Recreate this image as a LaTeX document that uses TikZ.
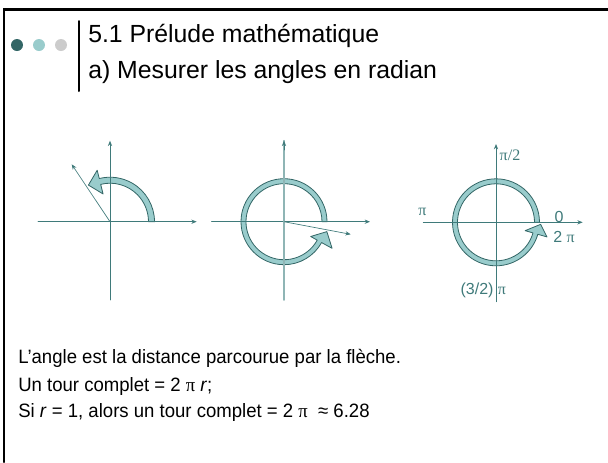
\documentclass[tikz,border=0pt]{standalone}
\usepackage{fontspec}
\setmainfont{Liberation Sans}
\newfontfamily\grec{Liberation Serif}
\usetikzlibrary{arrows.meta}
\definecolor{sarcelle}{HTML}{3F7A7A}
\definecolor{sarcelleclair}{HTML}{99CCCC}
\definecolor{sarcellefonce}{HTML}{336666}
\definecolor{grisclair}{HTML}{CCCCCC}
\definecolor{axeclair}{HTML}{8FB5B5}

\begin{document}
\begin{tikzpicture}[x=0.75pt,y=0.75pt,>={Stealth[length=4pt,width=3.2pt]},line cap=round,
  axe/.style={sarcelle,line width=0.7pt},
  bande/.style={fill=sarcelleclair,draw=sarcellefonce,line width=0.6pt,line join=round},
  etiq/.style={text=sarcelle,font=\fontsize{12}{14}\selectfont,inner sep=0pt},
  titre/.style={anchor=base west,inner sep=0pt,font=\fontsize{18.6}{20}\selectfont},
  texte/.style={anchor=base west,inner sep=0pt,xscale=0.96,font=\fontsize{14.5}{18}\selectfont}]
\useasboundingbox (0,0) rectangle (608,-462);
% cadre de la diapo
\draw[line width=1.6pt] (4,-462) -- (4,-9.5) -- (608,-9.5);
% puces du titre
\fill[sarcellefonce] (17,-45) circle (6);
\fill[sarcelleclair] (39,-45) circle (6);
\fill[grisclair] (61,-45) circle (6);
\draw[line width=1.5pt] (79,-21) -- (79,-91);
\node[titre] (titre1) at (88,-42) {5.1 Prélude mathématique};
\node[titre] (titre2) at (88,-78) {a) Mesurer les angles en radian};

% premier dessin : un angle
\coordinate (o1) at (110,-221.7);
\filldraw[bande,shift={(o1)}] (0:44.5) arc[start angle=0,end angle=104,radius=44.5]
  -- (104:53) -- (120.5:42.5) -- (104:28.6) -- (104:38.5)
  arc[start angle=104,end angle=0,radius=38.5] -- cycle;
\coordinate (g1) at (38,-221.7);
\coordinate (d1) at (196.7,-221.7);
\coordinate (b1) at (110,-300);
\coordinate (h1) at (110,-140.7);
\coordinate (f1) at (71.7,-164.3);
\draw[axe,->] (g1) -- (d1);
\draw[axe,->] (b1) -- (h1);
\draw[axe,line width=0.5pt,->] (o1) -- (f1);

% deuxieme dessin : plus d'un tour
\coordinate (o2) at (284,-221.7);
\filldraw[bande,shift={(o2)}] (0:43) arc[start angle=0,end angle=331,radius=43]
  -- (331:55) -- (347:44) -- (331:30.5) -- (331:38)
  arc[start angle=331,end angle=0,radius=38] -- cycle;
\coordinate (g2) at (211.7,-221.7);
\coordinate (d2) at (370,-221.7);
\coordinate (b2) at (284,-300);
\coordinate (h2) at (284,-140.7);
\coordinate (f2) at (350.7,-234.3);
\draw[axe,->] (g2) -- (d2);
\draw[axeclair,line width=1.3pt] (b2) -- (h2);
\draw[axe,->] (284,-150) -- (h2);
\draw[axe,line width=0.5pt,->] (o2) -- (f2);

% troisieme dessin : les valeurs en radian
\coordinate (o3) at (496,-222.3);
\filldraw[bande,shift={(o3)}] (0:43.5) arc[start angle=0,end angle=344,radius=43.5]
  -- (344:53) -- (357.4:44.7) -- (344:30.3) -- (344:38.5)
  arc[start angle=344,end angle=0,radius=38.5] -- cycle;
\coordinate (g3) at (423.3,-222.3);
\coordinate (d3) at (582.7,-222.3);
\coordinate (b3) at (496,-301.7);
\coordinate (h3) at (496,-144);
\draw[axe,->] (g3) -- (d3);
\draw[axe,->] (b3) -- (h3);
\node[etiq] (pisur2) at (510,-155) {\grec π/2};
\node[etiq] (pi) at (422.3,-211.7) {\grec π};
\node[etiq] (zero) at (559,-216.7) {0};
\node[etiq] (deuxpi) at (564,-236.7) {2 {\grec π}};
\node[etiq] (troispi) at (483.3,-290) {(3/2) {\grec π}};

% le texte
\node[texte] (ligne1) at (18,-363) {L’angle est la distance parcourue par la flèche.};
\node[texte] (ligne2) at (18,-391) {Un tour complet = 2 {\grec π} \textit{r};};
\node[texte] (ligne3) at (18,-417.5) {Si \textit{r} = 1, alors un tour complet = 2 {\grec π}\ \ ≈ 6.28};
\end{tikzpicture}
\end{document}
